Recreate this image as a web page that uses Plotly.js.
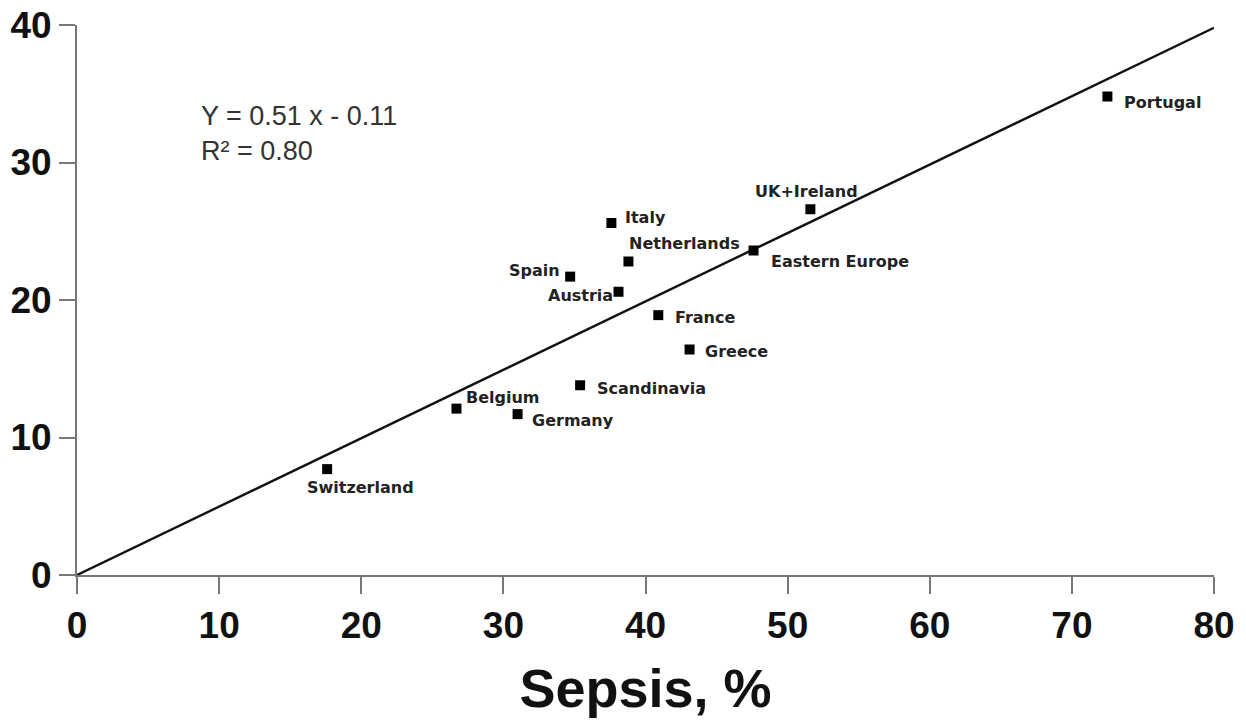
<!DOCTYPE html>
<html>
<head>
<meta charset="utf-8">
<script src="https://cdn.plot.ly/plotly-3.0.1.min.js"></script>
<style>html,body{margin:0;padding:0;background:#fff;}#chart{width:1246px;height:724px;}</style>
</head>
<body>
<div id="chart"></div>
<script>
const countries = ["Portugal","UK+Ireland","Italy","Netherlands","Eastern Europe","Spain","Austria","France","Greece","Scandinavia","Belgium","Germany","Switzerland"];
const sepsis = [72.5, 51.6, 37.6, 38.8, 47.6, 34.7, 38.1, 40.9, 43.1, 35.4, 26.7, 31.0, 17.6];
const yValues = [34.8, 26.6, 25.6, 22.8, 23.6, 21.7, 20.6, 18.9, 16.4, 13.8, 12.1, 11.7, 7.7];
const fitX = [0, 80];
const fitY = [0, 39.8];
const xTicks = [0, 10, 20, 30, 40, 50, 60, 70, 80];
const yTicks = [0, 10, 20, 30, 40];

// label placement offsets (pixels) per country
const labelPos = {
  "Portugal": {xa:"left", dx:15, dy:-6},
  "UK+Ireland": {xa:"center", dx:-4, dy:18},
  "Italy": {xa:"left", dx:12, dy:6},
  "Netherlands": {xa:"left", dx:-1, dy:18},
  "Eastern Europe": {xa:"left", dx:15, dy:-11},
  "Spain": {xa:"right", dx:-8, dy:6},
  "Austria": {xa:"right", dx:-4, dy:-4},
  "France": {xa:"left", dx:15, dy:-2},
  "Greece": {xa:"left", dx:13, dy:-2},
  "Scandinavia": {xa:"left", dx:15, dy:-3},
  "Belgium": {xa:"left", dx:8, dy:11},
  "Germany": {xa:"left", dx:12, dy:-6},
  "Switzerland": {xa:"center", dx:33, dy:-18}
};

const labelFont = {family: "DejaVu Sans, Verdana, sans-serif", size: 16, color: "#222", weight: "bold"};

const annotations = countries.map((c, i) => ({
  x: sepsis[i], y: yValues[i], xref: "x", yref: "y",
  text: c, showarrow: false,
  xanchor: labelPos[c].xa, yanchor: "middle",
  xshift: labelPos[c].dx, yshift: labelPos[c].dy,
  font: labelFont
}));
annotations.push({
  xref: "paper", yref: "paper", x: 0.107, y: 0.865, xanchor: "left", yanchor: "top",
  align: "left", showarrow: false,
  text: "Y = 0.51 x - 0.11<br>R² = 0.80",
  font: {family: "Liberation Sans, Arial, sans-serif", size: 27, color: "#333"}
});

const traces = [
  {x: fitX, y: fitY, mode: "lines", line: {color: "#111", width: 2.4}, hoverinfo: "skip", showlegend: false, cliponaxis: false},
  {x: sepsis, y: yValues, mode: "markers", marker: {symbol: "square", size: 10, color: "#000"}, text: countries, showlegend: false, cliponaxis: false}
];

const axisFont = {family: "Liberation Sans, Arial, sans-serif", size: 37, color: "#111", weight: "bold"};

const layout = {
  width: 1246, height: 724,
  margin: {l: 77, r: 32, t: 25, b: 149},
  paper_bgcolor: "#fff", plot_bgcolor: "#fff",
  showlegend: false,
  xaxis: {
    range: [0, 80], tickvals: xTicks, ticktext: xTicks.map(String),
    showgrid: false, zeroline: false, showline: true, linecolor: "#777", linewidth: 2,
    ticks: "outside", ticklen: 17, tickwidth: 2, tickcolor: "#777",
    tickfont: axisFont,
    title: {text: "<b>Sepsis, %</b>", font: {family: "Liberation Sans, Arial, sans-serif", size: 54, color: "#111"}, standoff: 24}
  },
  yaxis: {
    range: [0, 40], tickvals: yTicks, ticktext: yTicks.map(String),
    showgrid: false, zeroline: false, showline: true, linecolor: "#777", linewidth: 2,
    ticks: "outside", ticklen: 16, tickwidth: 2, tickcolor: "#777",
    tickfont: axisFont
  },
  annotations: annotations
};

Plotly.newPlot("chart", traces, layout, {displayModeBar: false, staticPlot: true});
</script>
</body>
</html>
